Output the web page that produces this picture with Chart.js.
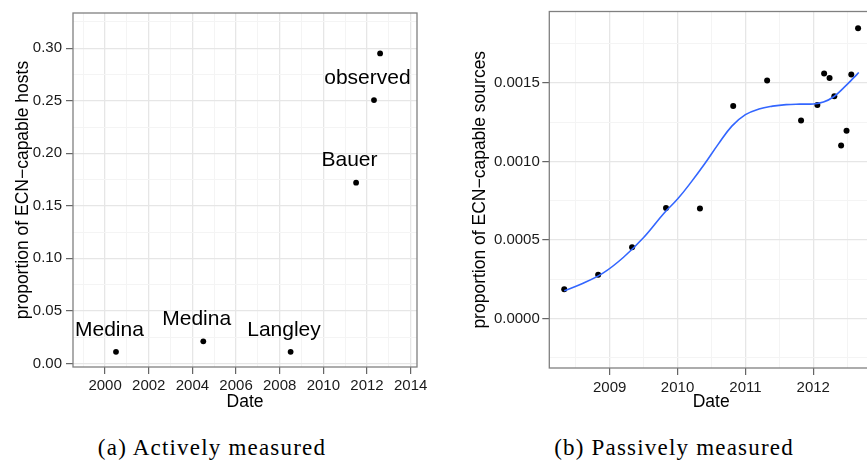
<!DOCTYPE html>
<html><head><meta charset="utf-8">
<script src="https://cdn.jsdelivr.net/npm/chart.js@4.4.1/dist/chart.umd.min.js"></script>
<style>
html,body{margin:0;padding:0;background:#fff;}
body{width:867px;height:464px;overflow:hidden;position:relative;font-family:"Liberation Sans",Arial,sans-serif;}
#wrapA{position:absolute;left:0;top:0;width:440px;height:420px;}
#wrapB{position:absolute;left:440px;top:0;width:436px;height:420px;}
.cap{position:absolute;top:436px;width:320px;text-align:center;font-family:"Liberation Serif","Times New Roman",serif;font-size:23px;line-height:23px;letter-spacing:1.2px;color:#000;white-space:nowrap;}
</style></head><body>
<div id="wrapA"><canvas id="cA"></canvas></div>
<div id="wrapB"><canvas id="cB"></canvas></div>
<div class="cap" style="left:52px">(a) Actively measured</div>
<div class="cap" style="left:514px">(b) Passively measured</div>
<script>
// ---- Data: (a) actively measured ----
const activeYear  = [2000.5, 2004.5, 2008.5, 2011.5, 2012.32, 2012.6];
const activeProp  = [0.011, 0.021, 0.011, 0.172, 0.2506, 0.295];
const activeLabel = ["Medina", "Medina", "Langley", "Bauer", "observed", ""];

// ---- Data: (b) passively measured ----
const passiveYear = [2008.33, 2008.83, 2009.33, 2009.83, 2010.33, 2010.82, 2011.32, 2011.82,
                     2012.06, 2012.16, 2012.24, 2012.31, 2012.41, 2012.49, 2012.56, 2012.66];
const passiveProp = [0.000186, 0.000278, 0.000454, 0.000703, 0.000700, 0.001353, 0.001516, 0.001261,
                     0.001359, 0.001560, 0.001531, 0.001415, 0.001102, 0.001196, 0.001553, 0.001848];

// smoother curve
const smoothYear = [2008.33, 2008.6, 2008.9, 2009.2, 2009.5, 2009.8, 2010.0, 2010.2, 2010.4, 2010.6,
                    2010.8, 2011.0, 2011.2, 2011.4, 2011.6, 2011.8, 2012.0, 2012.15, 2012.3, 2012.45,
                    2012.6, 2012.67];
const smoothProp = [0.000176, 0.000222, 0.000288, 0.000388, 0.000515, 0.000670, 0.000760, 0.000868,
                    0.000985, 0.001110, 0.001225, 0.001298, 0.001334, 0.001352, 0.001362, 0.001365,
                    0.001366, 0.001378, 0.001412, 0.001470, 0.001535, 0.001566];

// ---- Axis ranges / ticks ----
const aXRange = [1998.53, 2014.29], aXStep = 1;
const aYRange = [-0.0034, 0.3335], aYStep = 0.025;
const bXRange = [2008.11, 2012.88], bXStep = 0.5;
const bYRange = [-0.000316, 0.001955], bYStep = 0.00025;

const TICK_FONT = {family: "'Liberation Sans', Arial, sans-serif", size: 15};
const TITLE_FONT = {family: "'Liberation Sans', Arial, sans-serif", size: 17.5};
const TEXT_COL = '#1a1a1a';
const MAJOR = '#e6e6e6', MINOR = '#f4f4f4';

function gridOpts(isMajor) {
  return {
    color: c => (c.tick && isMajor(c.tick.value)) ? MAJOR : MINOR,
    lineWidth: c => (c.tick && isMajor(c.tick.value)) ? 1.3 : 1,
    tickColor: c => (c.tick && isMajor(c.tick.value)) ? '#555' : 'rgba(0,0,0,0)',
    tickWidth: 1.1,
    tickLength: 7,
    drawTicks: true,
    drawOnChartArea: true
  };
}

const panelBorder = {
  id: 'panelBorder',
  afterDraw(chart) {
    const {ctx, chartArea: a} = chart;
    ctx.save();
    ctx.strokeStyle = '#808080';
    ctx.lineWidth = 1.3;
    ctx.strokeRect(a.left, a.top, a.right - a.left, a.bottom - a.top);
    ctx.restore();
  }
};

const pointLabels = {
  id: 'pointLabels',
  afterDatasetsDraw(chart) {
    const {ctx, scales} = chart;
    ctx.save();
    ctx.font = "21px 'Liberation Sans', Arial, sans-serif";
    ctx.fillStyle = '#000';
    ctx.textAlign = 'center';
    ctx.textBaseline = 'alphabetic';
    activeLabel.forEach((t, i) => {
      if (!t) return;
      const x = scales.x.getPixelForValue(activeYear[i]) - 6.6;
      const y = scales.y.getPixelForValue(activeProp[i]) - 16.3;
      ctx.fillText(t, x, y);
    });
    ctx.restore();
  }
};

const isInt = v => Math.abs(v - Math.round(v)) < 1e-6;

Chart.defaults.animation = false;

// ---- Chart (a) ----
const aXMajor = v => isInt(v) && Math.round(v) % 2 === 0;
const aYMajor = v => Math.round(v / aYStep) % 2 === 0;
new Chart(document.getElementById('cA'), {
  type: 'scatter',
  data: {
    datasets: [{
      data: activeYear.map((x, i) => ({x, y: activeProp[i]})),
      pointRadius: 2.9, pointBackgroundColor: '#000', pointBorderWidth: 0,
      pointHoverRadius: 2.9
    }]
  },
  options: {
    responsive: true, maintainAspectRatio: false,
    layout: {padding: {top: 5, right: 23, bottom: 0, left: 0}},
    plugins: {legend: {display: false}, tooltip: {enabled: false}},
    events: [],
    scales: {
      x: {
        type: 'linear', min: aXRange[0], max: aXRange[1],
        afterFit: s => { s.height = 53; },
        grid: gridOpts(aXMajor), border: {display: false},
        ticks: {stepSize: aXStep, includeBounds: false, autoSkip: false, maxRotation: 0,
                padding: 3, font: TICK_FONT, color: TEXT_COL,
                callback: v => aXMajor(v) ? String(Math.round(v)) : ''},
        title: {display: true, text: 'Date', font: TITLE_FONT, color: '#000', padding: {top: 0, bottom: 7}}
      },
      y: {
        type: 'linear', min: aYRange[0], max: aYRange[1],
        afterFit: s => { s.width = 73; },
        grid: gridOpts(aYMajor), border: {display: false},
        ticks: {stepSize: aYStep, includeBounds: false, autoSkip: false,
                padding: 4, font: TICK_FONT, color: TEXT_COL,
                callback: v => aYMajor(v) ? v.toFixed(2) : ''},
        title: {display: true, text: 'proportion of ECN\u2212capable hosts', font: TITLE_FONT, color: '#000',
                padding: {top: 13, bottom: 0}}
      }
    }
  },
  plugins: [panelBorder, pointLabels]
});

// ---- Chart (b) ----
const bXMajor = v => isInt(v);
const bYMajor = v => Math.round(v / bYStep) % 2 === 0;
new Chart(document.getElementById('cB'), {
  type: 'scatter',
  data: {
    datasets: [
      {
        type: 'line',
        data: smoothYear.map((x, i) => ({x, y: smoothProp[i]})),
        showLine: true, borderColor: '#3366FF', borderWidth: 1.6,
        pointRadius: 0, fill: false, tension: 0.4
      },
      {
        data: passiveYear.map((x, i) => ({x, y: passiveProp[i]})),
        pointRadius: 3, pointBackgroundColor: '#000', pointBorderWidth: 0,
        pointHoverRadius: 3
      }
    ]
  },
  options: {
    responsive: true, maintainAspectRatio: false,
    layout: {padding: {top: 6, right: 0, bottom: 0, left: 0}},
    plugins: {legend: {display: false}, tooltip: {enabled: false}},
    events: [],
    scales: {
      x: {
        type: 'linear', min: bXRange[0], max: bXRange[1],
        afterFit: s => { s.height = 52; },
        grid: gridOpts(bXMajor), border: {display: false},
        ticks: {stepSize: bXStep, includeBounds: false, autoSkip: false, maxRotation: 0,
                padding: 3.5, font: TICK_FONT, color: TEXT_COL,
                callback: v => bXMajor(v) ? String(Math.round(v)) : ''},
        title: {display: true, text: 'Date', font: TITLE_FONT, color: '#000', padding: {top: 0, bottom: 7}}
      },
      y: {
        type: 'linear', min: bYRange[0], max: bYRange[1],
        afterFit: s => { s.width = 109.3; },
        grid: gridOpts(bYMajor), border: {display: false},
        ticks: {stepSize: bYStep, includeBounds: false, autoSkip: false,
                padding: 2.5, font: TICK_FONT, color: TEXT_COL,
                callback: v => bYMajor(v) ? v.toFixed(4) : ''},
        title: {display: true, text: 'proportion of ECN\u2212capable sources', font: TITLE_FONT, color: '#000',
                padding: {top: 30, bottom: 0}}
      }
    }
  },
  plugins: [panelBorder]
});
</script>
</body></html>
